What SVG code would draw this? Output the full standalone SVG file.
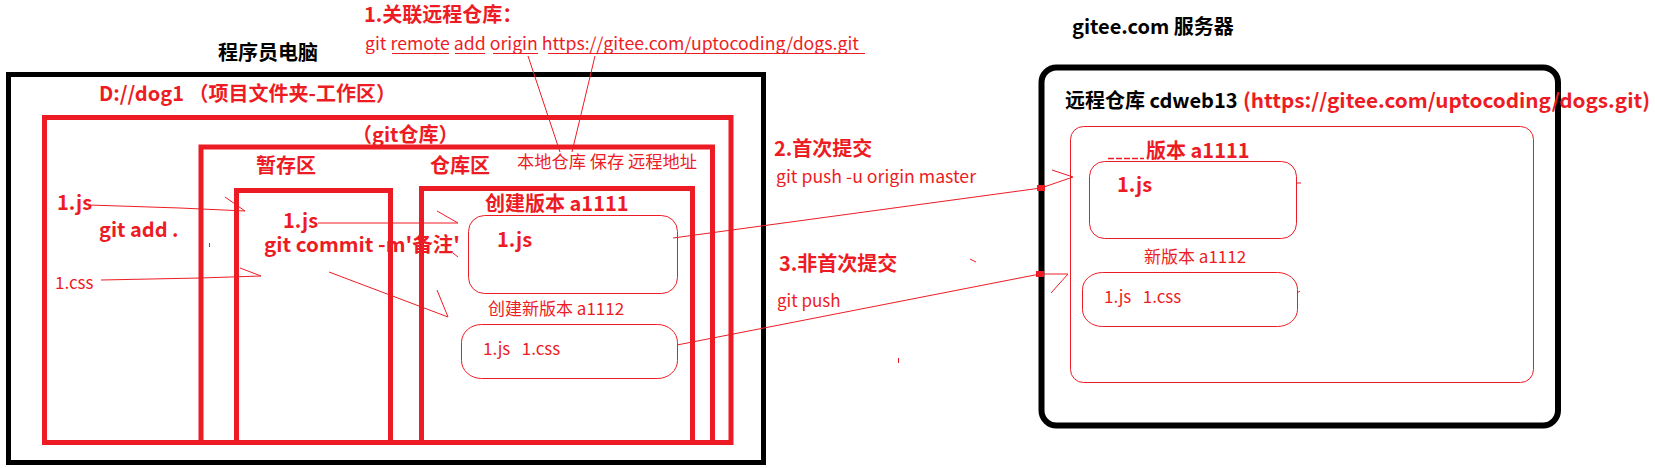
<svg xmlns="http://www.w3.org/2000/svg" width="1655" height="468" viewBox="0 0 1655 468">
<style>
text { font-family: "Noto Sans CJK SC", "Noto Sans", sans-serif; }
.rb { font-weight: bold; font-size: 20px; fill: #ED1C24; }
.rn { font-weight: normal; font-size: 17px; fill: #ED1C24; }
.kb { font-weight: bold; font-size: 20px; fill: #000; }
.thick { fill: none; stroke: #ED1C24; stroke-width: 5; }
.thin { fill: none; stroke: #ED1C24; stroke-width: 1; }
.blk { fill: none; stroke: #000; stroke-width: 5; }
.hd { fill: #ED1C24; }
</style>
<rect width="1655" height="468" fill="#fff"/>

<g id="title-local"><text class="kb" x="218" y="60">程序员电脑</text></g>
<g id="title-remote"><text class="kb" x="1072" y="34">gitee.com 服务器</text></g>

<g id="step1">
  <text class="rb" x="364" y="22">1.关联远程仓库：</text>
  <text class="rn" x="365" y="50" textLength="494" lengthAdjust="spacingAndGlyphs">git remote add origin https://gitee.com/uptocoding/dogs.git</text>
  <path class="thin" d="M392 53.5H449M455 53.5H485M493 53.5H538M548 53.5H865"/>
</g>

<g id="computer">
  <rect class="blk" x="8.5" y="74.5" width="755" height="388"/>
</g>

<g id="workspace">
  <text class="rb" x="99" y="101">D://dog1 （项目文件夹-工作区）</text>
  <rect class="thick" x="44.5" y="117.5" width="686.5" height="325"/>
  <text class="rb" x="57" y="210">1.js</text>
  <text class="rb" x="99" y="237">git add .</text>
  <text class="rn" x="55" y="289">1.css</text>
</g>

<g id="git-repo">
  <text class="rb" x="352" y="142">（git仓库）</text>
  <rect class="thick" x="201" y="147" width="511.5" height="295.5"/>
  <text class="rn" x="517" y="168" textLength="180" lengthAdjust="spacingAndGlyphs">本地仓库 保存 远程地址</text>
</g>

<g id="staging">
  <text class="rb" x="256" y="173">暂存区</text>
  <rect class="thick" x="236.5" y="190.5" width="154" height="252"/>
  <text class="rb" x="283" y="228">1.js</text>
  <text class="rb" x="264" y="252" textLength="196" lengthAdjust="spacingAndGlyphs">git commit -m'备注'</text>
</g>

<g id="repo-area">
  <text class="rb" x="430" y="173">仓库区</text>
  <rect class="thick" x="421.5" y="188.5" width="271" height="254"/>
  <text class="rb" x="485" y="211">创建版本 a1111</text>
  <rect class="thin" x="468.5" y="215.5" width="209" height="78" rx="16"/>
  <text class="rb" x="497" y="247">1.js</text>
  <text class="rn" x="488" y="315">创建新版本 a1112</text>
  <rect class="thin" x="461.5" y="324.5" width="216" height="54" rx="20" ry="18"/>
  <text class="rn" x="483" y="355" xml:space="preserve">1.js   1.css</text>
</g>

<g id="push-labels">
  <text class="rb" x="774" y="156">2.首次提交</text>
  <text class="rn" x="776" y="183" textLength="200" lengthAdjust="spacingAndGlyphs">git push -u origin master</text>
  <text class="rb" x="779" y="271">3.非首次提交</text>
  <text class="rn" x="777" y="307">git push</text>
</g>

<g id="gitee">
  <rect x="1041.5" y="67.5" width="516.5" height="358" rx="15" fill="none" stroke="#000" stroke-width="6"/>
  <text class="kb" x="1065" y="108">远程仓库 cdweb13</text>
  <text class="rb" x="1243" y="108" textLength="407" lengthAdjust="spacingAndGlyphs">(https://gitee.com/uptocoding/dogs.git)</text>
  <rect class="thin" x="1070.5" y="126.5" width="463" height="256" rx="13"/>
  <text class="rb" x="1146" y="158">版本 a1111</text>
  <path d="M1108 158.5H1144" stroke="#ED1C24" stroke-width="1.5" stroke-dasharray="6 2"/>
  <rect class="thin" x="1089.5" y="161.5" width="207" height="77" rx="15"/>
  <text class="rb" x="1117" y="192">1.js</text>
  <text class="rn" x="1144" y="263">新版本 a1112</text>
  <rect class="thin" x="1082.5" y="272.5" width="215" height="54" rx="20" ry="17"/>
  <text class="rn" x="1104" y="303" xml:space="preserve">1.js   1.css</text>
  <path class="thin" d="M1296 183H1301M1297 293L1300 291"/>
</g>

<g id="connectors">
  <path class="thin" d="M528 56L560 152M595 56L572 152"/>
  <path class="thin" d="M89 205L180 208L245 211M225 197L245 211"/>
  <path class="thin" d="M101 280L200 278L261 276M240 268L261 276"/>
  <path class="thin" d="M318 223H458M437 211L458 223M453 253L458 257"/>
  <path class="thin" d="M329 272L448 317M437 290L448 317"/>
  <path class="thin" d="M673 238L1041 188L1073 177M1052 170L1073 177"/>
  <path class="thin" d="M677 345L1040 274L1068 274M1051 293L1068 274"/>
  <rect class="hd" x="1037" y="185" width="8" height="6"/>
  <rect class="hd" x="1036" y="271" width="8" height="6"/>
  <path class="thin" d="M209.5 243V247M970 259L976 262M898.5 358V363"/>
</g>
</svg>
